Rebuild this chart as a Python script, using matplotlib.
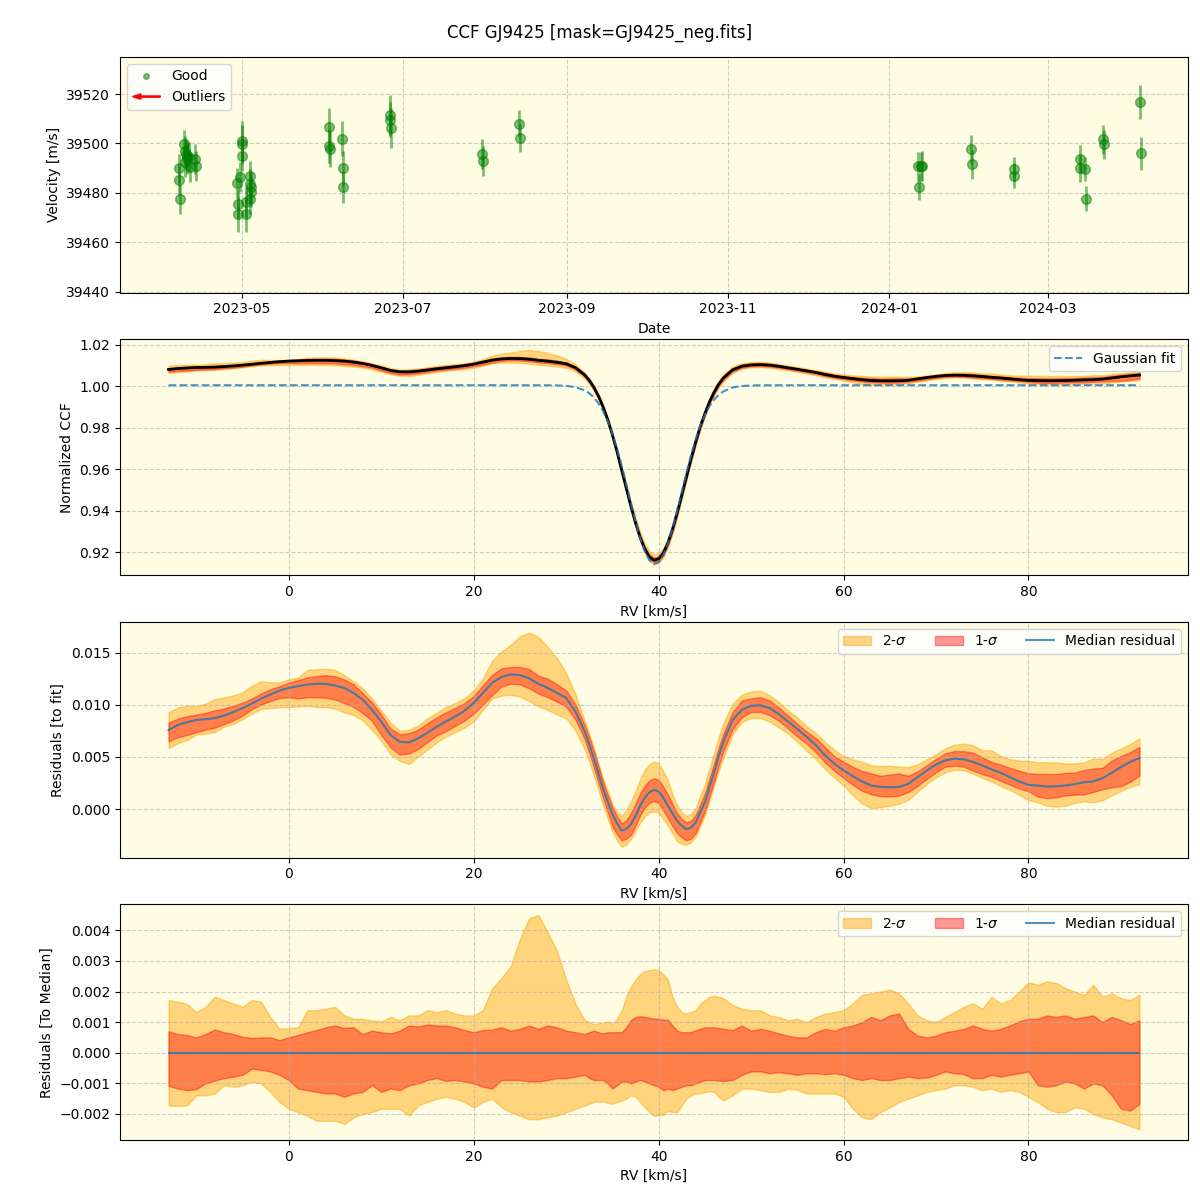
"""CCF diagnostics for GJ9425: RV time series, CCF profile and residual bands."""

import matplotlib
matplotlib.use("Agg")
import matplotlib.dates as mdates
import matplotlib.pyplot as plt
import numpy as np
import pandas as pd
from matplotlib.legend_handler import HandlerPatch
from matplotlib.lines import Line2D
from matplotlib.patches import FancyArrow, Patch

TITLE = "CCF GJ9425 [mask=GJ9425_neg.fits]"
BG = "#fefce3"

# --- RV time series (good points) ---
obs_dates = [
    "2023-04-07 10:00", "2023-04-07 12:00", "2023-04-07 14:00",
    "2023-04-09 02:00", "2023-04-09 12:00", "2023-04-10 00:00", "2023-04-10 06:00",
    "2023-04-10 12:00", "2023-04-09 18:00", "2023-04-11 00:00", "2023-04-11 12:00",
    "2023-04-13 12:00", "2023-04-13 14:00",
    "2023-04-29 10:00", "2023-04-29 12:00", "2023-04-29 14:00", "2023-04-30 12:00",
    "2023-05-01 00:00", "2023-05-01 03:00", "2023-05-01 06:00",
    "2023-05-02 12:00", "2023-05-02 14:00",
    "2023-05-04 06:00", "2023-05-04 00:00", "2023-05-04 12:00", "2023-05-04 14:00",
    "2023-05-04 03:00",
    "2023-06-03 00:00", "2023-06-03 04:00", "2023-06-03 08:00",
    "2023-06-08 00:00", "2023-06-08 04:00", "2023-06-08 08:00",
    "2023-06-26 00:00", "2023-06-26 04:00", "2023-06-26 08:00",
    "2023-07-31 00:00", "2023-07-31 06:00",
    "2023-08-14 00:00", "2023-08-14 06:00",
    "2024-01-12 00:00", "2024-01-12 06:00", "2024-01-13 00:00", "2024-01-13 06:00",
    "2024-02-01 00:00", "2024-02-01 06:00",
    "2024-02-17 00:00", "2024-02-17 06:00",
    "2024-03-13 00:00", "2024-03-13 06:00",
    "2024-03-15 00:00", "2024-03-15 06:00",
    "2024-03-22 00:00", "2024-03-22 06:00",
    "2024-04-05 00:00", "2024-04-05 06:00",
]
obs_rv = [
    39489.9, 39485.2, 39477.6,
    39499.6, 39496.9, 39495.6, 39494.9,
    39493.6, 39492.4, 39494.4, 39490.4,
    39493.6, 39490.9,
    39483.9, 39475.6, 39471.2, 39486.3,
    39500.9, 39499.6, 39494.9,
    39476.3, 39471.2,
    39486.9, 39483.6, 39482.3, 39480.3,
    39477.6,
    39506.7, 39498.9, 39497.6,
    39501.9, 39489.9, 39482.3,
    39511.6, 39509.6, 39506.3,
    39495.6, 39492.9,
    39508.0, 39502.3,
    39490.7, 39482.3, 39490.7, 39490.9,
    39497.6, 39491.5,
    39489.6, 39486.9,
    39493.6, 39489.9,
    39489.6, 39477.6,
    39501.6, 39499.6,
    39516.7, 39496.0,
]
obs_err = [
    6.0, 6.0, 6.0,
    6.0, 6.0, 6.0, 6.0,
    6.0, 6.0, 6.0, 6.0,
    6.0, 6.0,
    6.0, 6.0, 7.0, 6.0,
    8.0, 8.0, 6.0,
    6.0, 7.0,
    6.0, 6.0, 6.0, 6.0,
    6.0,
    7.5, 7.0, 7.0,
    7.0, 7.0, 6.5,
    8.0, 7.0, 8.0,
    6.0, 6.0,
    5.6, 5.6,
    6.0, 5.3, 6.0, 6.0,
    6.0, 6.0,
    5.0, 5.0,
    5.6, 5.6,
    5.0, 5.0,
    6.0, 6.0,
    7.0, 6.7,
]

# --- CCF: RV grid (1 km/s), Gaussian fit parameters, median residual to fit ---
rv_start, rv_stop = -13, 92
fit_baseline = 1.0005
fit_depth = 0.0862
fit_center = 39.6
fit_sigma = 2.85

median_resid = [
    0.00758, 0.00806, 0.00832, 0.00855, 0.00861, 0.00871, 0.00897, 0.00929, 0.00968, 0.01010,
    0.01058, 0.01097, 0.01136, 0.01161, 0.01177, 0.01194, 0.01200, 0.01200, 0.01184, 0.01161,
    0.01113, 0.01048, 0.00952, 0.00839, 0.00710, 0.00645, 0.00639, 0.00677, 0.00732, 0.00790,
    0.00839, 0.00887, 0.00942, 0.01016, 0.01113, 0.01210, 0.01265, 0.01290, 0.01284, 0.01252,
    0.01200, 0.01161, 0.01113, 0.01065, 0.00936, 0.00742, 0.00484, 0.00194, -0.00048, -0.00205,
    -0.00145, 0.00032, 0.00161, 0.00170, 0.00032, -0.00113, -0.00192, -0.00129, 0.00065, 0.00355,
    0.00645, 0.00855, 0.00952, 0.00990, 0.00994, 0.00968, 0.00910, 0.00839, 0.00768, 0.00694,
    0.00613, 0.00516, 0.00435, 0.00371, 0.00316, 0.00265, 0.00226, 0.00213, 0.00210, 0.00213,
    0.00242, 0.00306, 0.00371, 0.00426, 0.00468, 0.00484, 0.00477, 0.00452, 0.00419, 0.00381,
    0.00348, 0.00306, 0.00265, 0.00232, 0.00226, 0.00216, 0.00219, 0.00226, 0.00239, 0.00258,
    0.00265, 0.00297, 0.00348, 0.00403, 0.00452, 0.00490,
]

# --- percentile bands relative to the median residual (1 km/s grid) ---
hi2 = [
    0.00172, 0.00167, 0.00159, 0.00133, 0.00150, 0.00183, 0.00172, 0.00161, 0.00150, 0.00172,
    0.00167, 0.00117, 0.00078, 0.00081, 0.00083, 0.00139, 0.00139, 0.00144, 0.00150, 0.00122,
    0.00111, 0.00111, 0.00106, 0.00103, 0.00117, 0.00106, 0.00122, 0.00122, 0.00139, 0.00133,
    0.00139, 0.00128, 0.00122, 0.00122, 0.00139, 0.00211, 0.00244, 0.00283, 0.00372, 0.00439,
    0.00450, 0.00394, 0.00333, 0.00239, 0.00161, 0.00106, 0.00094, 0.00097, 0.00094, 0.00139,
    0.00217, 0.00256, 0.00270, 0.00270, 0.00239, 0.00150, 0.00128, 0.00139, 0.00172, 0.00186,
    0.00178, 0.00156, 0.00144, 0.00139, 0.00139, 0.00122, 0.00117, 0.00106, 0.00111, 0.00100,
    0.00117, 0.00128, 0.00133, 0.00139, 0.00161, 0.00189, 0.00194, 0.00200, 0.00206, 0.00194,
    0.00161, 0.00122, 0.00106, 0.00100, 0.00117, 0.00133, 0.00150, 0.00161, 0.00144, 0.00183,
    0.00161, 0.00172, 0.00200, 0.00230, 0.00222, 0.00233, 0.00228, 0.00211, 0.00200, 0.00189,
    0.00222, 0.00183, 0.00194, 0.00178, 0.00172, 0.00189,
]
hi1 = [
    0.00070, 0.00061, 0.00058, 0.00050, 0.00061, 0.00076, 0.00067, 0.00061, 0.00052, 0.00048,
    0.00050, 0.00050, 0.00041, 0.00050, 0.00058, 0.00067, 0.00074, 0.00083, 0.00089, 0.00081,
    0.00083, 0.00061, 0.00072, 0.00067, 0.00063, 0.00072, 0.00089, 0.00086, 0.00092, 0.00089,
    0.00089, 0.00083, 0.00074, 0.00067, 0.00074, 0.00076, 0.00083, 0.00072, 0.00078, 0.00089,
    0.00078, 0.00089, 0.00083, 0.00072, 0.00067, 0.00061, 0.00072, 0.00063, 0.00067, 0.00067,
    0.00106, 0.00119, 0.00114, 0.00111, 0.00108, 0.00072, 0.00067, 0.00074, 0.00083, 0.00083,
    0.00078, 0.00074, 0.00089, 0.00072, 0.00078, 0.00072, 0.00063, 0.00056, 0.00050, 0.00050,
    0.00067, 0.00078, 0.00072, 0.00083, 0.00089, 0.00100, 0.00117, 0.00106, 0.00122, 0.00128,
    0.00078, 0.00056, 0.00050, 0.00056, 0.00067, 0.00072, 0.00078, 0.00089, 0.00078, 0.00072,
    0.00078, 0.00089, 0.00103, 0.00111, 0.00111, 0.00122, 0.00117, 0.00122, 0.00111, 0.00117,
    0.00122, 0.00100, 0.00117, 0.00106, 0.00094, 0.00106,
]
lo1 = [
    -0.00108, -0.00117, -0.00122, -0.00119, -0.00100, -0.00091, -0.00083, -0.00078, -0.00072, -0.00052,
    -0.00056, -0.00061, -0.00072, -0.00089, -0.00117, -0.00122, -0.00128, -0.00133, -0.00133, -0.00144,
    -0.00133, -0.00128, -0.00106, -0.00128, -0.00117, -0.00122, -0.00106, -0.00100, -0.00089, -0.00083,
    -0.00092, -0.00089, -0.00094, -0.00100, -0.00111, -0.00117, -0.00089, -0.00089, -0.00089, -0.00094,
    -0.00094, -0.00089, -0.00083, -0.00083, -0.00078, -0.00072, -0.00089, -0.00089, -0.00117, -0.00094,
    -0.00100, -0.00089, -0.00100, -0.00111, -0.00117, -0.00117, -0.00106, -0.00100, -0.00089, -0.00089,
    -0.00092, -0.00089, -0.00072, -0.00061, -0.00061, -0.00067, -0.00063, -0.00067, -0.00072, -0.00067,
    -0.00067, -0.00070, -0.00067, -0.00072, -0.00083, -0.00089, -0.00083, -0.00089, -0.00089, -0.00083,
    -0.00078, -0.00083, -0.00081, -0.00072, -0.00061, -0.00067, -0.00070, -0.00083, -0.00083, -0.00072,
    -0.00078, -0.00072, -0.00067, -0.00061, -0.00106, -0.00111, -0.00106, -0.00094, -0.00100, -0.00117,
    -0.00100, -0.00106, -0.00139, -0.00183, -0.00189, -0.00167,
]
lo2 = [
    -0.00172, -0.00174, -0.00172, -0.00139, -0.00139, -0.00133, -0.00106, -0.00111, -0.00106, -0.00094,
    -0.00100, -0.00128, -0.00161, -0.00183, -0.00194, -0.00206, -0.00222, -0.00222, -0.00222, -0.00233,
    -0.00211, -0.00200, -0.00194, -0.00183, -0.00183, -0.00183, -0.00206, -0.00172, -0.00161, -0.00150,
    -0.00144, -0.00150, -0.00161, -0.00178, -0.00161, -0.00150, -0.00178, -0.00194, -0.00206, -0.00217,
    -0.00217, -0.00211, -0.00206, -0.00194, -0.00183, -0.00172, -0.00161, -0.00159, -0.00167, -0.00156,
    -0.00139, -0.00161, -0.00194, -0.00203, -0.00189, -0.00194, -0.00150, -0.00133, -0.00128, -0.00128,
    -0.00156, -0.00139, -0.00117, -0.00117, -0.00122, -0.00128, -0.00128, -0.00117, -0.00122, -0.00133,
    -0.00133, -0.00133, -0.00133, -0.00144, -0.00183, -0.00211, -0.00217, -0.00194, -0.00178, -0.00161,
    -0.00150, -0.00139, -0.00128, -0.00122, -0.00117, -0.00106, -0.00106, -0.00111, -0.00122, -0.00117,
    -0.00128, -0.00122, -0.00128, -0.00144, -0.00161, -0.00183, -0.00194, -0.00194, -0.00178, -0.00183,
    -0.00200, -0.00211, -0.00217, -0.00228, -0.00239, -0.00250,
]

# --- extra half-step samples across the line core (32.5 ... 46.5 km/s) ---
rv_core = [32.5, 33.5, 34.5, 35.5, 36.5, 37.5, 38.5, 39.5, 40.5, 41.5, 42.5, 43.5, 44.5, 45.5, 46.5]
median_core = [0.00620, 0.00340, 0.00070, -0.00135, -0.00190, -0.00065, 0.00110, 0.00185,
               0.00110, -0.00040, -0.00160, -0.00178, -0.00030, 0.00210, 0.00510]
hi2_core = [0.00100, 0.00097, 0.00103, 0.00111, 0.00183, 0.00239, 0.00267, 0.00272,
            0.00256, 0.00183, 0.00133, 0.00133, 0.00161, 0.00183, 0.00183]
hi1_core = [0.00067, 0.00067, 0.00067, 0.00067, 0.00083, 0.00117, 0.00117, 0.00111,
            0.00108, 0.00089, 0.00067, 0.00067, 0.00078, 0.00083, 0.00081]
lo1_core = [-0.00083, -0.00089, -0.00100, -0.00106, -0.00094, -0.00094, -0.00094, -0.00106,
            -0.00122, -0.00122, -0.00111, -0.00106, -0.00094, -0.00089, -0.00091]
lo2_core = [-0.00167, -0.00159, -0.00163, -0.00161, -0.00150, -0.00144, -0.00178, -0.00206,
            -0.00203, -0.00194, -0.00172, -0.00139, -0.00133, -0.00126, -0.00144]


def _arrow_handle(legend, orig_handle, xdescent, ydescent, width, height, fontsize):
    return FancyArrow(width, 0.5 * height, -width, 0, width=0.12 * height,
                      head_width=0.55 * height, head_length=0.3 * width,
                      length_includes_head=True, color="red")


def _style(ax):
    ax.set_facecolor(BG)
    ax.grid(True, linestyle="--", alpha=0.6)


def _bands(ax, rv, lo2_abs, lo1_abs, hi1_abs, hi2_abs):
    ax.fill_between(rv, lo2_abs, hi2_abs, color="orange", alpha=0.45)
    ax.fill_between(rv, lo1_abs, hi1_abs, color="red", alpha=0.4)


def _merge(grid, coarse, core_rv, core):
    """Stack coarse + core samples and sort by RV."""
    x = np.concatenate([grid, core_rv])
    y = np.concatenate([coarse, core])
    order = np.argsort(x)
    return x[order], y[order]


def main():
    grid = np.arange(rv_start, rv_stop + 1, dtype=float)
    rv, med = _merge(grid, median_resid, rv_core, median_core)
    _, d_hi2 = _merge(grid, hi2, rv_core, hi2_core)
    _, d_hi1 = _merge(grid, hi1, rv_core, hi1_core)
    _, d_lo1 = _merge(grid, lo1, rv_core, lo1_core)
    _, d_lo2 = _merge(grid, lo2, rv_core, lo2_core)

    gauss = fit_baseline - fit_depth * np.exp(-0.5 * ((rv - fit_center) / fit_sigma) ** 2)
    ccf_med = gauss + med

    fig, axes = plt.subplots(4, 1, figsize=(12, 12), dpi=100)
    fig.subplots_adjust(left=0.1, right=0.99, top=0.9525, bottom=0.05, hspace=0.198)
    fig.suptitle(TITLE, fontsize=12, y=0.98)

    # Panel 1: RV time series
    ax = axes[0]
    _style(ax)
    dates = pd.to_datetime(obs_dates)
    ax.errorbar(dates, obs_rv, yerr=obs_err, fmt="o", color="green", alpha=0.5,
                markersize=7, elinewidth=2)
    ax.set_xlim(pd.Timestamp("2023-03-16"), pd.Timestamp("2024-04-23"))
    ax.set_ylim(39439.5, 39535)
    ax.xaxis.set_major_locator(mdates.MonthLocator(bymonth=[1, 3, 5, 7, 9, 11]))
    ax.xaxis.set_major_formatter(mdates.DateFormatter("%Y-%m"))
    ax.set_xlabel("Date")
    ax.set_ylabel("Velocity [m/s]")
    good = Line2D([], [], marker="o", color="green", alpha=0.5, linestyle="none", markersize=4)
    outl = FancyArrow(0, 0, 1, 0, color="red")
    ax.legend([good, outl], ["Good", "Outliers"], loc="upper left",
              handler_map={FancyArrow: HandlerPatch(patch_func=_arrow_handle)})

    # Panel 2: CCF with bands and Gaussian fit
    ax = axes[1]
    _style(ax)
    _bands(ax, rv, gauss + med + d_lo2, gauss + med + d_lo1,
           gauss + med + d_hi1, gauss + med + d_hi2)
    ax.plot(rv, ccf_med, color="black", linewidth=2)
    ax.plot(rv, gauss, linestyle="--", color="tab:blue", alpha=0.8, linewidth=1.5,
            label="Gaussian fit")
    ax.set_xlabel("RV [km/s]")
    ax.set_ylabel("Normalized CCF")
    ax.legend(loc="upper right")

    # Panel 3: residuals to fit
    ax = axes[2]
    _style(ax)
    _bands(ax, rv, med + d_lo2, med + d_lo1, med + d_hi1, med + d_hi2)
    ax.plot(rv, med, color="tab:blue", alpha=0.8, linewidth=1.5)
    ax.set_xlabel("RV [km/s]")
    ax.set_ylabel("Residuals [to fit]")

    # Panel 4: residuals to median
    ax = axes[3]
    _style(ax)
    _bands(ax, rv, d_lo2, d_lo1, d_hi1, d_hi2)
    ax.plot(rv, np.zeros_like(med), color="tab:blue", alpha=0.8, linewidth=1.5)
    ax.set_xlabel("RV [km/s]")
    ax.set_ylabel("Residuals [To Median]")

    handles = [Patch(facecolor="orange", edgecolor="orange", alpha=0.45),
               Patch(facecolor="red", edgecolor="red", alpha=0.4),
               Line2D([], [], color="tab:blue", alpha=0.8, linewidth=1.5)]
    labels = [r"2-$\sigma$", r"1-$\sigma$", "Median residual"]
    for ax in axes[2:]:
        ax.legend(handles, labels, loc="upper right", ncol=3)

    fig.savefig("out.png", dpi=100)


if __name__ == "__main__":
    main()
